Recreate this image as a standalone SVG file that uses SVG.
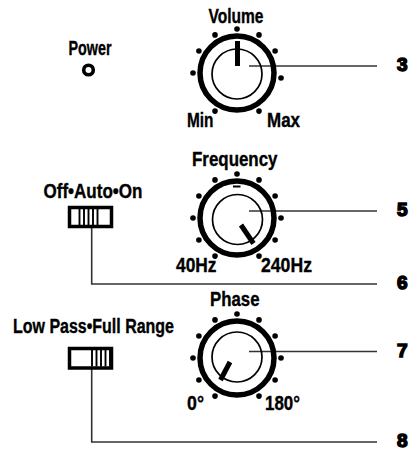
<svg xmlns="http://www.w3.org/2000/svg" width="412" height="450" viewBox="0 0 412 450">
<style>
.lbl{font-family:"Liberation Sans",Arial,sans-serif;font-weight:bold;font-size:19.5px;fill:#000;stroke:#000;stroke-width:0.35}
.num{font-family:"Liberation Sans",Arial,sans-serif;font-weight:bold;font-size:19px;fill:#000;stroke:#000;stroke-width:1.5}
.ring{fill:none;stroke:#000;stroke-width:5.5}
.inner{fill:none;stroke:#000;stroke-width:1.7}
.ptr{stroke:#000;stroke-width:5;stroke-linecap:butt}
.dot{fill:#000}
.conn{fill:none;stroke:#333;stroke-width:1.6}
.sw{fill:#fff;stroke:#000;stroke-width:3.5}
.stripe{stroke:#000;stroke-width:1.9}
</style>
<rect width="412" height="450" fill="#fff"/>

<g id="connectors">
<polyline class="conn" points="249,66 377,66"/>
<polyline class="conn" points="249,211 377,211"/>
<polyline class="conn" points="91.7,227 91.7,284 377,284"/>
<polyline class="conn" points="249,351.5 377,351.5"/>
<polyline class="conn" points="91.7,369 91.7,442 377,442"/>
</g>

<g id="power">
<text class="lbl" x="68.5" y="55" textLength="43" lengthAdjust="spacingAndGlyphs">Power</text>
<circle cx="88.5" cy="70" r="4.8" fill="none" stroke="#000" stroke-width="3.6"/>
</g>

<g id="volume">
<text class="lbl" x="208.5" y="23" textLength="55" lengthAdjust="spacingAndGlyphs">Volume</text>
<circle class="ring" cx="237" cy="73" r="37"/>
<circle class="inner" cx="237" cy="74" r="25"/>
<line class="ptr" x1="237.5" y1="41" x2="237.5" y2="66" stroke-width="4.5"/>
<g class="dot">
<circle cx="237" cy="29" r="2.8"/><circle cx="215" cy="34.9" r="2.8"/><circle cx="259" cy="34.9" r="2.8"/>
<circle cx="198.9" cy="51" r="2.8"/><circle cx="275.1" cy="51" r="2.8"/>
<circle cx="193" cy="73" r="2.8"/><circle cx="281" cy="78" r="2.8"/>
<circle cx="215" cy="111.1" r="2.8"/><circle cx="259" cy="111.1" r="2.8"/>
</g>
<text class="lbl" x="187" y="127" textLength="26.5" lengthAdjust="spacingAndGlyphs">Min</text>
<text class="lbl" x="267" y="127" textLength="33" lengthAdjust="spacingAndGlyphs">Max</text>
</g>

<g id="label3"><text class="num" x="397" y="71">3</text></g>

<g id="switch-off-auto-on">
<text class="lbl" x="43.5" y="198" textLength="99" lengthAdjust="spacingAndGlyphs">Off•Auto•On</text>
<rect class="sw" x="69.5" y="207.5" width="42" height="19"/>
<g class="stripe">
<line x1="79.5" y1="209" x2="79.5" y2="225"/><line x1="84" y1="209" x2="84" y2="225"/>
<line x1="88.5" y1="209" x2="88.5" y2="225"/><line x1="93" y1="209" x2="93" y2="225"/>
<line x1="97.5" y1="209" x2="97.5" y2="225"/>
</g>
</g>

<g id="frequency">
<text class="lbl" x="192" y="166" textLength="85.5" lengthAdjust="spacingAndGlyphs">Frequency</text>
<circle class="ring" cx="237" cy="218" r="37"/>
<circle class="inner" cx="237.5" cy="219.5" r="25"/>
<line x1="233" y1="186.5" x2="240.5" y2="186.5" stroke="#000" stroke-width="2"/>
<line class="ptr" x1="241" y1="225" x2="253.5" y2="243.5"/>
<g class="dot">
<circle cx="237" cy="174" r="2.8"/><circle cx="215" cy="179.9" r="2.8"/><circle cx="259" cy="179.9" r="2.8"/>
<circle cx="198.9" cy="196" r="2.8"/><circle cx="275.1" cy="196" r="2.8"/>
<circle cx="193" cy="218" r="2.8"/><circle cx="281" cy="218" r="2.8"/>
<circle cx="198.9" cy="240" r="2.8"/><circle cx="275.1" cy="240" r="2.8"/>
<circle cx="215" cy="256.1" r="2.8"/><circle cx="259" cy="256.1" r="2.8"/>
</g>
<text class="lbl" x="176" y="272" textLength="40.5" lengthAdjust="spacingAndGlyphs">40Hz</text>
<text class="lbl" x="261" y="272" textLength="51" lengthAdjust="spacingAndGlyphs">240Hz</text>
</g>

<g id="label5"><text class="num" x="397" y="216">5</text></g>
<g id="label6"><text class="num" x="397" y="289">6</text></g>

<g id="switch-lowpass">
<text class="lbl" x="13" y="333" textLength="161" lengthAdjust="spacingAndGlyphs">Low Pass•Full Range</text>
<rect class="sw" x="69.5" y="348.5" width="42" height="19.5"/>
<g class="stripe">
<line x1="92" y1="350" x2="92" y2="366.5"/><line x1="96.5" y1="350" x2="96.5" y2="366.5"/>
<line x1="101" y1="350" x2="101" y2="366.5"/><line x1="105.5" y1="350" x2="105.5" y2="366.5"/>
<line x1="110" y1="350" x2="110" y2="366.5"/>
</g>
</g>

<g id="phase">
<text class="lbl" x="210" y="306" textLength="49.5" lengthAdjust="spacingAndGlyphs">Phase</text>
<circle class="ring" cx="237" cy="358" r="37"/>
<circle class="inner" cx="237" cy="357" r="25"/>
<line class="ptr" x1="230" y1="362" x2="220.5" y2="380"/>
<g class="dot">
<circle cx="237" cy="314" r="2.8"/><circle cx="215" cy="319.9" r="2.8"/><circle cx="259" cy="319.9" r="2.8"/>
<circle cx="198.9" cy="336" r="2.8"/><circle cx="275.1" cy="336" r="2.8"/>
<circle cx="193" cy="358" r="2.8"/><circle cx="281" cy="358" r="2.8"/>
<circle cx="198.9" cy="380" r="2.8"/><circle cx="275.1" cy="380" r="2.8"/>
<circle cx="215" cy="396.1" r="2.8"/><circle cx="259" cy="396.1" r="2.8"/>
</g>
<text class="lbl" x="187" y="410" textLength="17" lengthAdjust="spacingAndGlyphs">0°</text>
<text class="lbl" x="265" y="410" textLength="35" lengthAdjust="spacingAndGlyphs">180°</text>
</g>

<g id="label7"><text class="num" x="397" y="357">7</text></g>
<g id="label8"><text class="num" x="397" y="447">8</text></g>
</svg>
